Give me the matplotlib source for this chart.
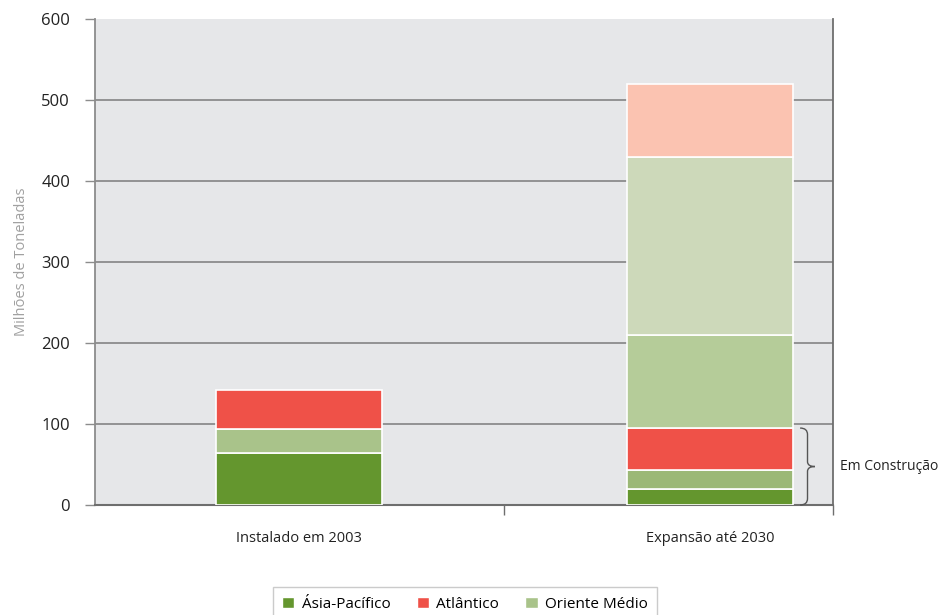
import numpy as np
import matplotlib.pyplot as plt
from matplotlib.path import Path
from matplotlib.patches import PathPatch, Patch

plt.rcParams['font.family'] = ['Open Sans', 'DejaVu Sans']

categories = ['Instalado em 2003', 'Expansão até 2030']
# segments from bottom to top
bar1 = [64, 30, 48]
bar2 = [20, 23, 52, 115, 220, 90]
colors1 = ['#64962E', '#A9C38A', '#EF5148']
colors2 = ['#64962E', '#9BB876', '#EF5148', '#B5CC99', '#CDD9BA', '#FBC3B1']
legend_labels = ['Ásia-Pacífico', 'Atlântico', 'Oriente Médio']
legend_colors = ['#64962E', '#EF5148', '#A9C38A']

fig = plt.figure(figsize=(9.44, 6.15), dpi=100)
ax = fig.add_axes([95 / 944, 1 - 505 / 615, 738 / 944, 486 / 615])
ax.set_facecolor('#E6E7E9')

x = np.arange(len(categories))
w = 0.404
for xi, vals, cols in [(0, bar1, colors1), (1, bar2, colors2)]:
    bottom = 0
    for v, c in zip(vals, cols):
        ax.bar(xi, v, w, bottom=bottom, color=c, edgecolor='white', linewidth=1.2, zorder=3)
        bottom += v

ax.set_xlim(-0.496, 1.299)
ax.set_ylim(0, 600)
ax.set_yticks(range(0, 601, 100))
ax.yaxis.grid(True, color='#8C8C8C', linewidth=1.3, zorder=0)
ax.yaxis.get_gridlines()[-1].set_visible(False)
ax.set_axisbelow(True)
ax.tick_params(axis='y', length=7, width=1, color='#8C8C8C', labelsize=12, pad=11, labelcolor='#222222')
ax.set_xticks([0.5, 1.299], minor=False)
ax.set_xticks(x, minor=True)
ax.set_xticklabels(['', ''])
ax.set_xticklabels(categories, minor=True)
ax.tick_params(axis='x', which='major', length=7, width=1, color='#6E6E6E', direction='out')
ax.tick_params(axis='x', which='minor', length=0, labelsize=10.5, pad=19, labelcolor='#222222')
ax.spines['left'].set_color('#8C8C8C')
ax.spines['left'].set_linewidth(1.3)
ax.spines['bottom'].set_color('#6E6E6E')
ax.spines['bottom'].set_linewidth(1.5)
ax.spines['right'].set_color('#6E6E6E')
ax.spines['right'].set_linewidth(1.3)
ax.spines['top'].set_visible(False)

ax.set_ylabel('Milhões de Toneladas', color='#A0A0A0', fontsize=10.5, labelpad=9)

# brace for "Em Construção"
top = sum(bar2[:3])
bx = 1 + w / 2 + 0.035
d = 0.018
ymid = top / 2
verts = [
    (bx - d, top), (bx, top), (bx, top - 8),
    (bx, ymid + 6),
    (bx, ymid), (bx + d, ymid),
    (bx, ymid), (bx, ymid - 6),
    (bx, 8),
    (bx, 0), (bx - d, 0),
]
codes = [Path.MOVETO, Path.CURVE3, Path.CURVE3, Path.LINETO,
         Path.CURVE3, Path.CURVE3,
         Path.CURVE3, Path.CURVE3,
         Path.LINETO, Path.CURVE3, Path.CURVE3]
ax.add_patch(PathPatch(Path(verts, codes), fill=False, edgecolor='#555555', linewidth=1, clip_on=False, zorder=4))
ax.text(1.316, ymid, 'Em Construção', fontsize=10, va='center', ha='left', color='#222222', clip_on=False)

handles = [Patch(facecolor=c, edgecolor='white', label=l) for l, c in zip(legend_labels, legend_colors)]
leg = fig.legend(handles=handles, loc='lower center', bbox_to_anchor=(465 / 944, -0.022), ncol=3,
                 frameon=True, fancybox=False, edgecolor='#BFBFBF', fontsize=11,
                 handlelength=0.8, handleheight=0.8, handletextpad=0.5, columnspacing=1.7,
                 borderpad=0.6)
leg.get_frame().set_linewidth(1)

fig.savefig('out.png', dpi=100)
